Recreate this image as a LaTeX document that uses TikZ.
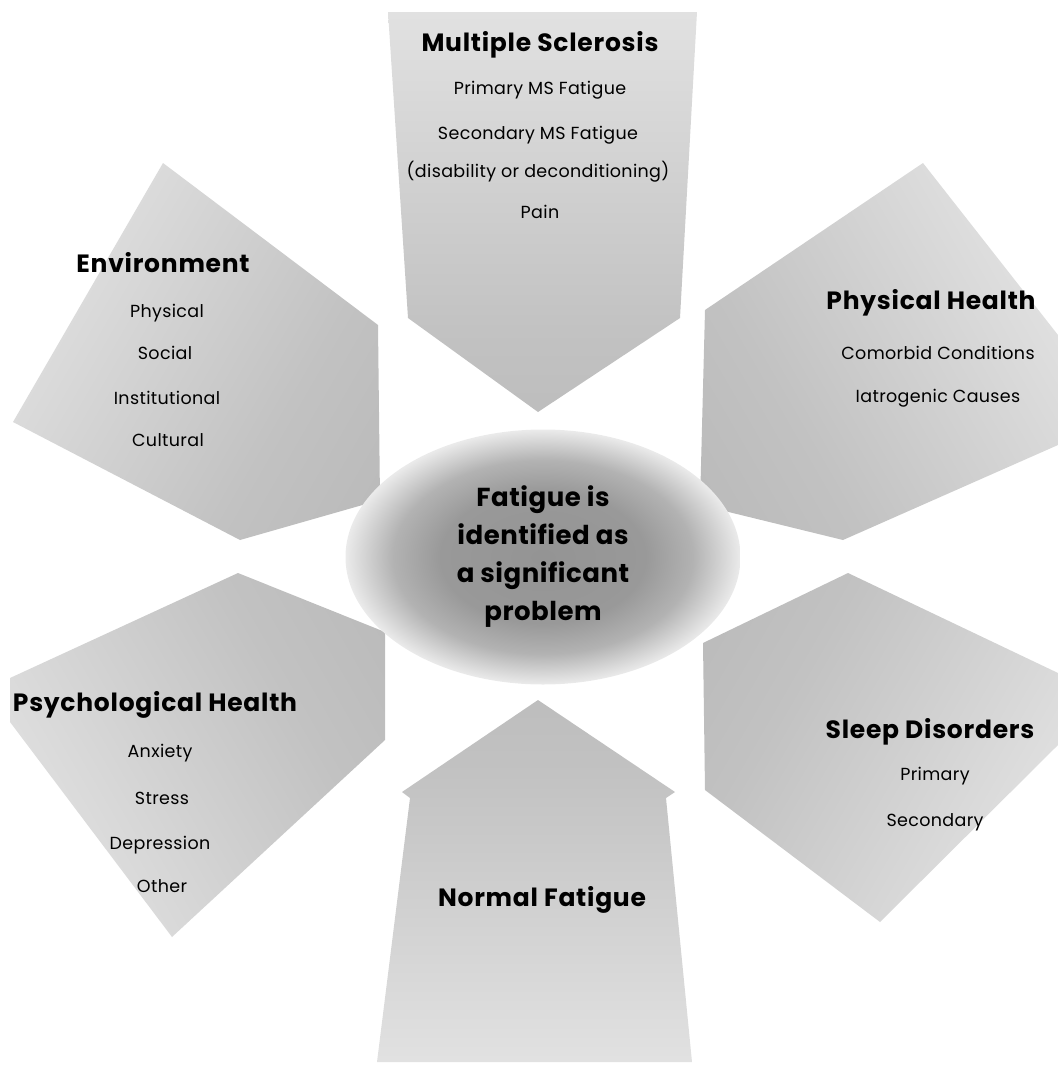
\documentclass[tikz,border=0pt]{standalone}
\usepackage{fontspec}
\setmainfont{Poppins}
\usetikzlibrary{shapes.geometric}

% grey fades standing in for the dithered dots
\pgfdeclareverticalshading{armfade}{100bp}{color(0bp)=(black!30); color(35bp)=(black!24); color(100bp)=(black!4)}
\pgfdeclareradialshading{corefade}{\pgfpoint{0bp}{0bp}}{color(0bp)=(black!42); color(13bp)=(black!40); color(19bp)=(black!30); color(25bp)=(black!8); color(50bp)=(black!8)}

\tikzset{
    arm/.style={shading=armfade, draw=none},
    core/.style={ellipse, shade, shading=corefade, minimum width=395pt, minimum height=255pt,
        align=center, font=\fontsize{26}{38}\selectfont\bfseries\addfontfeatures{LetterSpace=2}},
    heading/.style={font=\fontsize{25}{28}\selectfont\bfseries\addfontfeatures{LetterSpace=3}, inner sep=0pt},
    item/.style={font=\fontsize{17.5}{20}\selectfont\addfontfeatures{LetterSpace=2}, inner sep=0pt}
}

\begin{document}
\begin{tikzpicture}[x=1pt, y=-1pt]
        \useasboundingbox (0,0) rectangle (1058,1077);

        % the six arrows
        \shade[arm] (388,12) -- (697,12) -- (680,318) -- (538,412) -- (408,318) -- cycle;
        \shade[arm, shading angle=60] (163,163) -- (378,325) -- (380,500) -- (240,540) -- (13,422) -- cycle;
        \shade[arm, shading angle=-60] (923,163) -- (1058,335) -- (1058,445) -- (843,540) -- (700,505) -- (705,310) -- cycle;
        \shade[arm, shading angle=120] (238,573) -- (385,632) -- (385,740) -- (172,937) -- (10,722) -- (10,678) -- cycle;
        \shade[arm, shading angle=-120] (848,573) -- (1058,673) -- (1058,745) -- (880,922) -- (705,790) -- (703,643) -- cycle;
        \shade[arm, shading angle=180] (538,700) -- (675,792) -- (666,798) -- (692,1062) -- (377,1062) -- (410,798) -- (402,792) -- cycle;

        \node[core] (core) at (543,557) {Fatigue is\\identified as\\a significant\\problem};

        \node[heading] (ms) at (540,45) {Multiple Sclerosis};
        \node[item] (ms1) at (540,90) {Primary MS Fatigue};
        \node[item] (ms2) at (538,135) {Secondary MS Fatigue};
        \node[item] (ms3) at (538,172) {(disability or deconditioning)};
        \node[item] (ms4) at (540,212) {Pain};

        \node[heading] (env) at (163,263) {Environment};
        \node[item] (env1) at (167,313) {Physical};
        \node[item] (env2) at (165,353) {Social};
        \node[item] (env3) at (167,398) {Institutional};
        \node[item] (env4) at (168,440) {Cultural};

        \node[heading] (phys) at (931,303) {Physical Health};
        \node[item] (phys1) at (938,353) {Comorbid Conditions};
        \node[item] (phys2) at (938,398) {Iatrogenic Causes};

        \node[heading] (psych) at (155,705) {Psychological Health};
        \node[item] (psych1) at (160,753) {Anxiety};
        \node[item] (psych2) at (162,798) {Stress};
        \node[item] (psych3) at (160,845) {Depression};
        \node[item] (psych4) at (162,886) {Other};

        \node[heading] (sleep) at (930,732) {Sleep Disorders};
        \node[item] (sleep1) at (935,776) {Primary};
        \node[item] (sleep2) at (935,822) {Secondary};

        \node[heading] (normal) at (542,900) {Normal Fatigue};
    \end{tikzpicture}
\end{document}
